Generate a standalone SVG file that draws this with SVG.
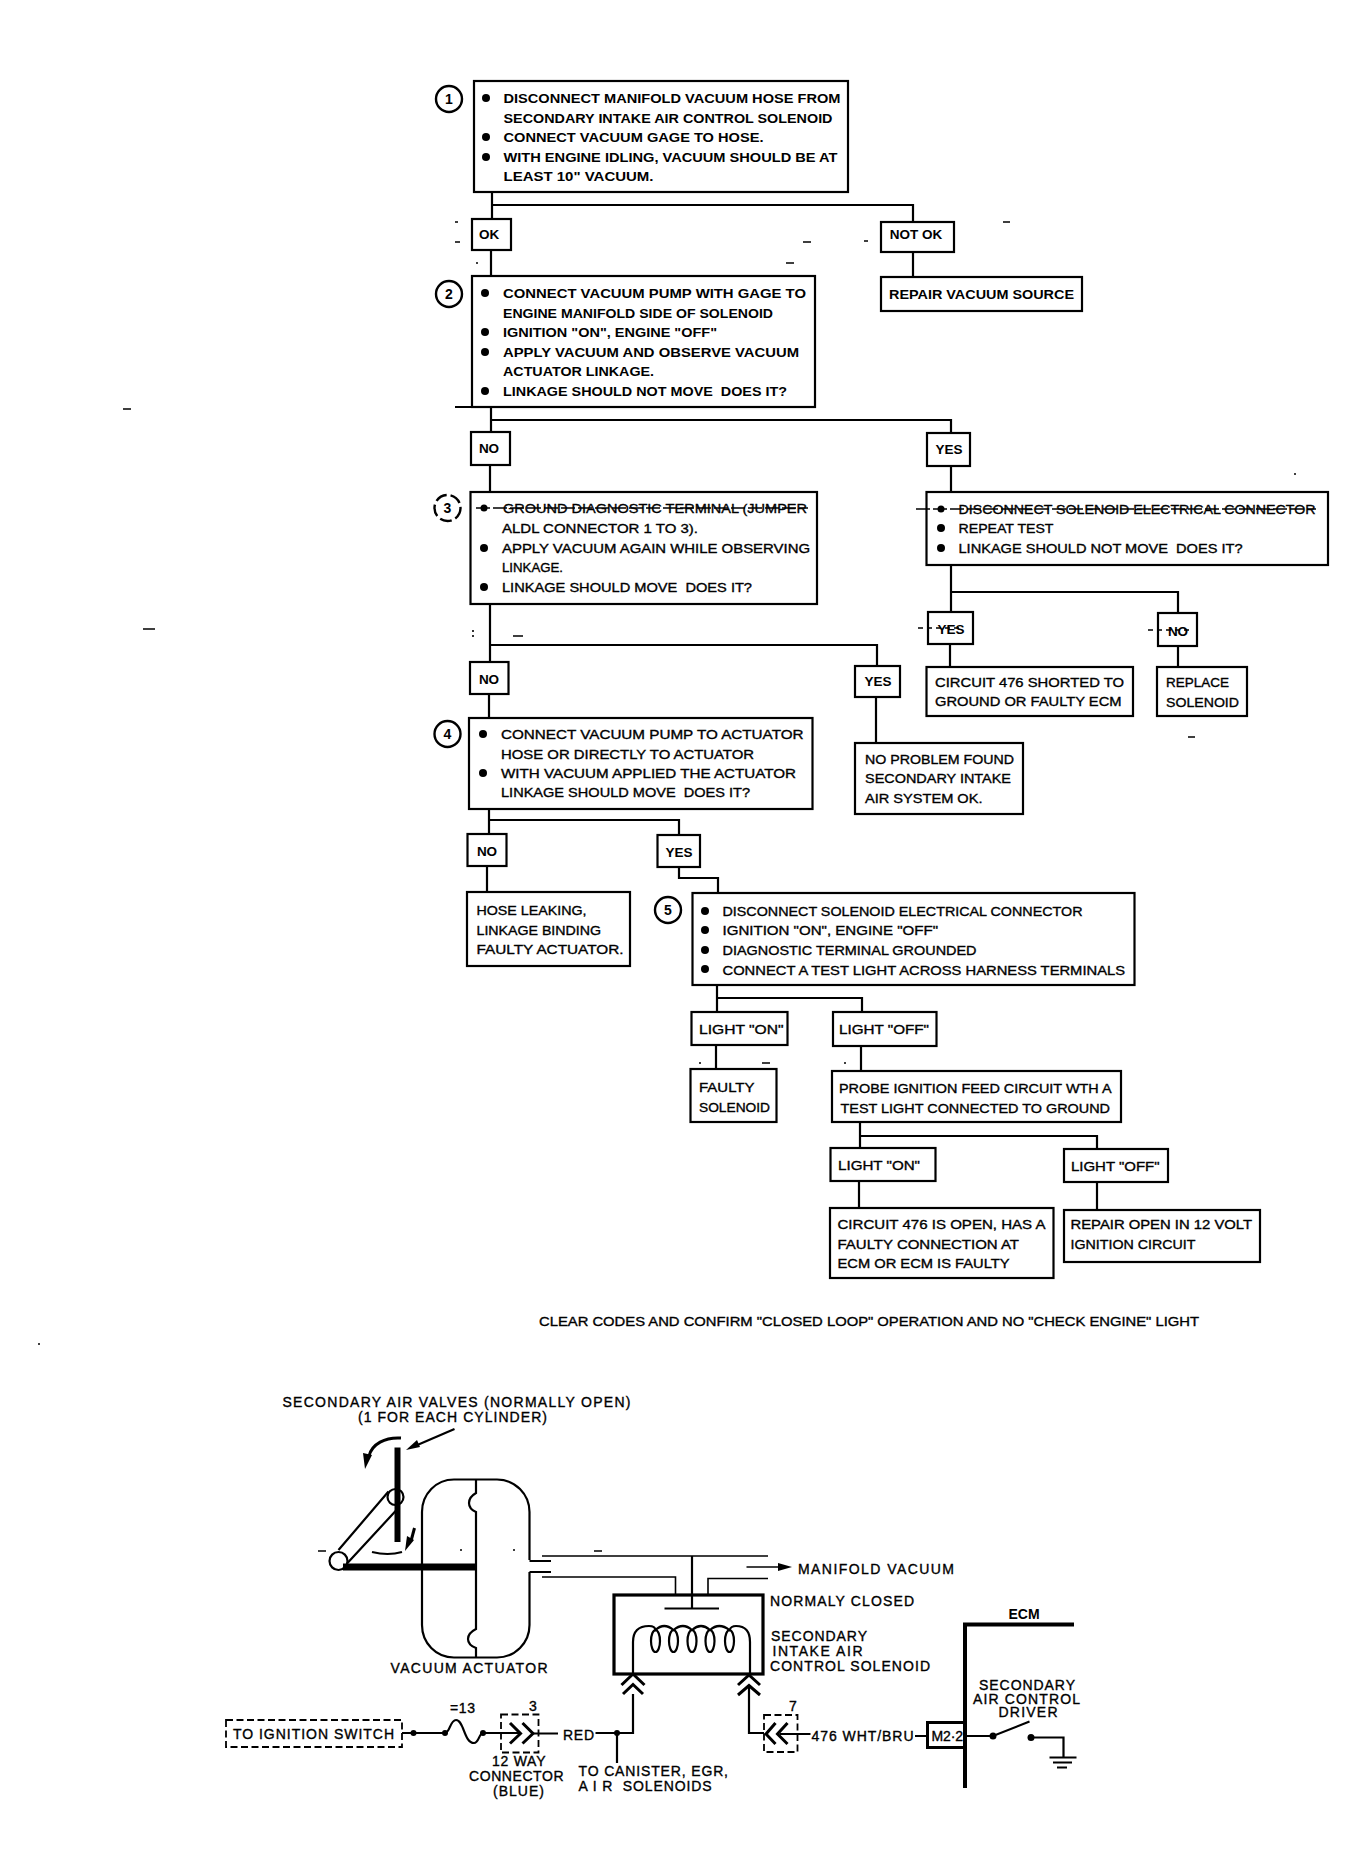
<svg xmlns="http://www.w3.org/2000/svg" width="1366" height="1870" viewBox="0 0 1366 1870">
<style>
text{font-family:"Liberation Sans",Arial,sans-serif;fill:#000}
.t{font-size:13.5px;font-weight:700}
.r{font-size:13.5px;font-weight:400;stroke:#000;stroke-width:.35}
.c{font-size:13.5px;font-weight:700;text-anchor:middle}
.n{font-size:14px;font-weight:700;text-anchor:middle}
.d{font-size:14px;font-weight:400;stroke:#000;stroke-width:.35}
.box{fill:#fff;stroke:#000;stroke-width:2.2}
.ring{fill:#fff;stroke:#000;stroke-width:2.4}
.w{fill:none;stroke:#000;stroke-width:2.2}
.thin{fill:none;stroke:#000;stroke-width:1.6}
.thick{fill:none;stroke:#000;stroke-width:3}
.dash{fill:none;stroke:#000;stroke-width:1.8;stroke-dasharray:7 3.5}
.b{fill:#000}
</style>
<g id="connectors">
<path class="w" d="M492 192V218M491 205H913V222M491 250V276M913 252V277M491 407V432M491 420H951V433"/>
<path class="w" d="M455 407H815M490 465V492M951 466V492M490 604V662M490 645H877V666M876 697V743M489 694V718"/>
<path class="w" d="M951 565V612M951 592H1178V613M950 644V667M1178 646V667"/>
<path class="w" d="M489 809V834M489 820H679V835M487 866V892M679 867V878H718V893"/>
<path class="w" d="M717 985V1012M717 998H862V1012M716 1045V1069M861 1046V1071M860 1122V1148M860 1136H1097V1149M859 1181V1208M1097 1182V1210"/>
</g>
<g id="n1"><rect class="box" x="474" y="81" width="374" height="111"/><circle class="ring" cx="449" cy="99" r="13"/><text class="n" x="449" y="104">1</text><circle class="b" cx="486" cy="98" r="4"/><circle class="b" cx="486" cy="137" r="4"/><circle class="b" cx="486" cy="157" r="4"/>
<text class="t" x="503.5" y="103" textLength="337" lengthAdjust="spacingAndGlyphs">DISCONNECT MANIFOLD VACUUM HOSE FROM</text>
<text class="t" x="503.5" y="123" textLength="329" lengthAdjust="spacingAndGlyphs">SECONDARY INTAKE AIR CONTROL SOLENOID</text>
<text class="t" x="503.5" y="142" textLength="260" lengthAdjust="spacingAndGlyphs">CONNECT VACUUM GAGE TO HOSE.</text>
<text class="t" x="503.5" y="162" textLength="334" lengthAdjust="spacingAndGlyphs">WITH ENGINE IDLING, VACUUM SHOULD BE AT</text>
<text class="t" x="503.5" y="181" textLength="150" lengthAdjust="spacingAndGlyphs">LEAST 10" VACUUM.</text></g>
<g id="ok"><rect class="box" x="472" y="219" width="39" height="31"/><text class="c" x="489" y="239">OK</text></g>
<g id="notok"><rect class="box" x="881" y="222" width="73" height="30"/><text class="c" x="916" y="239">NOT OK</text></g>
<g id="repair-vacuum"><rect class="box" x="881" y="277" width="201" height="34"/><text class="t" x="889" y="299" textLength="185" lengthAdjust="spacingAndGlyphs">REPAIR VACUUM SOURCE</text></g>
<g id="n2"><rect class="box" x="472" y="276" width="343" height="131"/><circle class="ring" cx="449" cy="294" r="13"/><text class="n" x="449" y="299">2</text><circle class="b" cx="485" cy="293" r="4"/><circle class="b" cx="485" cy="332" r="4"/><circle class="b" cx="485" cy="352" r="4"/><circle class="b" cx="485" cy="391" r="4"/>
<text class="t" x="503" y="298" textLength="303" lengthAdjust="spacingAndGlyphs">CONNECT VACUUM PUMP WITH GAGE TO</text>
<text class="t" x="503" y="318" textLength="270" lengthAdjust="spacingAndGlyphs">ENGINE MANIFOLD SIDE OF SOLENOID</text>
<text class="t" x="503" y="337" textLength="214" lengthAdjust="spacingAndGlyphs">IGNITION "ON", ENGINE "OFF"</text>
<text class="t" x="503" y="357" textLength="296" lengthAdjust="spacingAndGlyphs">APPLY VACUUM AND OBSERVE VACUUM</text>
<text class="t" x="503" y="376" textLength="151" lengthAdjust="spacingAndGlyphs">ACTUATOR LINKAGE.</text>
<text class="t" x="503" y="396" textLength="284" lengthAdjust="spacingAndGlyphs" xml:space="preserve">LINKAGE SHOULD NOT MOVE  DOES IT?</text></g>
<g id="no1"><rect class="box" x="471" y="432" width="39" height="33"/><text class="c" x="489" y="453">NO</text></g>
<g id="yes1"><rect class="box" x="927" y="433" width="43" height="33"/><text class="c" x="949" y="454">YES</text></g>
<g id="n3"><rect class="box" x="470.500" y="492" width="346.500" height="112"/><circle class="ring" cx="447.500" cy="508" r="13" stroke-dasharray="12 4"/><text class="n" x="447.500" y="513">3</text><circle class="b" cx="484" cy="508" r="3.500"/><circle class="b" cx="484" cy="548" r="4"/><circle class="b" cx="484" cy="587" r="4"/>
<text class="r" x="503" y="513" textLength="304" lengthAdjust="spacingAndGlyphs">GROUND DIAGNOSTIC TERMINAL (JUMPER</text>
<path d="M476 508H808" stroke="#000" stroke-width="1.300" stroke-dasharray="14 3" fill="none"/>
<text class="r" x="502" y="533" textLength="196" lengthAdjust="spacingAndGlyphs">ALDL CONNECTOR 1 TO 3).</text>
<text class="r" x="502" y="553" textLength="308" lengthAdjust="spacingAndGlyphs">APPLY VACUUM AGAIN WHILE OBSERVING</text>
<text class="r" x="502" y="572" textLength="61" lengthAdjust="spacingAndGlyphs">LINKAGE.</text>
<text class="r" x="502" y="592" textLength="250" lengthAdjust="spacingAndGlyphs" xml:space="preserve">LINKAGE SHOULD MOVE  DOES IT?</text></g>
<g id="nr"><rect class="box" x="926.500" y="492" width="401.500" height="73"/><circle class="b" cx="941" cy="509" r="3.500"/><circle class="b" cx="941" cy="528" r="4"/><circle class="b" cx="941" cy="548" r="4"/>
<text class="r" x="958.500" y="514" textLength="357" lengthAdjust="spacingAndGlyphs">DISCONNECT SOLENOID ELECTRICAL CONNECTOR</text>
<path d="M916 509H1316" stroke="#000" stroke-width="1.300" stroke-dasharray="14 3" fill="none"/>
<text class="r" x="958.500" y="533" textLength="95" lengthAdjust="spacingAndGlyphs">REPEAT TEST</text>
<text class="r" x="958.500" y="553" textLength="284" lengthAdjust="spacingAndGlyphs" xml:space="preserve">LINKAGE SHOULD NOT MOVE  DOES IT?</text></g>
<g id="yes2"><rect class="box" x="928" y="612" width="45" height="32"/><text class="c" x="951" y="634" font-weight="400">YES</text><path d="M918 628H962" stroke="#000" stroke-width="1.300" stroke-dasharray="5 4" fill="none"/></g>
<g id="no2"><rect class="box" x="1158" y="613" width="39" height="33"/><text class="c" x="1178" y="636">NO</text><path d="M1148 630H1190" stroke="#000" stroke-width="1.300" stroke-dasharray="5 4" fill="none"/></g>
<g id="shorted"><rect class="box" x="926.500" y="667" width="206.500" height="49"/><text class="r" x="935" y="687" textLength="189" lengthAdjust="spacingAndGlyphs">CIRCUIT 476 SHORTED TO</text><text class="r" x="935" y="706" textLength="186.500" lengthAdjust="spacingAndGlyphs">GROUND OR FAULTY ECM</text></g>
<g id="replace"><rect class="box" x="1157" y="667" width="90" height="49"/><text class="r" x="1166" y="687" textLength="63" lengthAdjust="spacingAndGlyphs">REPLACE</text><text class="r" x="1166" y="707" textLength="73" lengthAdjust="spacingAndGlyphs">SOLENOID</text></g>
<g id="no3"><rect class="box" x="470" y="662" width="38.500" height="32"/><text class="c" x="489" y="684">NO</text></g>
<g id="yes3"><rect class="box" x="855" y="666" width="45" height="31"/><text class="c" x="878" y="686">YES</text></g>
<g id="noproblem"><rect class="box" x="855" y="743" width="168" height="71"/><text class="r" x="865" y="764" textLength="149" lengthAdjust="spacingAndGlyphs">NO PROBLEM FOUND</text><text class="r" x="865" y="783" textLength="146" lengthAdjust="spacingAndGlyphs">SECONDARY INTAKE</text><text class="r" x="865" y="803" textLength="117.500" lengthAdjust="spacingAndGlyphs">AIR SYSTEM OK.</text></g>
<g id="n4"><rect class="box" x="469" y="718" width="343.500" height="91"/><circle class="ring" cx="447.500" cy="734" r="13"/><text class="n" x="447.500" y="739">4</text><circle class="b" cx="483" cy="734" r="4"/><circle class="b" cx="483" cy="773" r="4"/>
<text class="r" x="501" y="739" textLength="302.500" lengthAdjust="spacingAndGlyphs">CONNECT VACUUM PUMP TO ACTUATOR</text>
<text class="r" x="501" y="759" textLength="253" lengthAdjust="spacingAndGlyphs">HOSE OR DIRECTLY TO ACTUATOR</text>
<text class="r" x="501" y="778" textLength="295" lengthAdjust="spacingAndGlyphs">WITH VACUUM APPLIED THE ACTUATOR</text>
<text class="r" x="501" y="797" textLength="249" lengthAdjust="spacingAndGlyphs" xml:space="preserve">LINKAGE SHOULD MOVE  DOES IT?</text></g>
<g id="no4"><rect class="box" x="467.500" y="834" width="39" height="32"/><text class="c" x="487" y="856">NO</text></g>
<g id="yes4"><rect class="box" x="657.500" y="835" width="42.500" height="32"/><text class="c" x="679" y="857">YES</text></g>
<g id="hose"><rect class="box" x="467" y="892" width="163" height="74"/><text class="r" x="476.500" y="915" textLength="110" lengthAdjust="spacingAndGlyphs">HOSE LEAKING,</text><text class="r" x="476.500" y="935" textLength="124.500" lengthAdjust="spacingAndGlyphs">LINKAGE BINDING</text><text class="r" x="476.500" y="954" textLength="147" lengthAdjust="spacingAndGlyphs">FAULTY ACTUATOR.</text></g>
<g id="n5"><rect class="box" x="692.500" y="893" width="442" height="92"/><circle class="ring" cx="668" cy="910" r="13"/><text class="n" x="668" y="915">5</text><circle class="b" cx="705" cy="911" r="4"/><circle class="b" cx="705" cy="930" r="4"/><circle class="b" cx="705" cy="950" r="4"/><circle class="b" cx="705" cy="969" r="4"/>
<text class="r" x="722.500" y="916" textLength="360" lengthAdjust="spacingAndGlyphs">DISCONNECT SOLENOID ELECTRICAL CONNECTOR</text>
<text class="r" x="722.500" y="935" textLength="215.500" lengthAdjust="spacingAndGlyphs">IGNITION "ON", ENGINE "OFF"</text>
<text class="r" x="722.500" y="955" textLength="254" lengthAdjust="spacingAndGlyphs">DIAGNOSTIC TERMINAL GROUNDED</text>
<text class="r" x="722.500" y="975" textLength="402.500" lengthAdjust="spacingAndGlyphs">CONNECT A TEST LIGHT ACROSS HARNESS TERMINALS</text></g>
<g id="on1"><rect class="box" x="691.500" y="1012" width="96" height="33"/><text class="r" x="699" y="1034" textLength="84.500" lengthAdjust="spacingAndGlyphs">LIGHT "ON"</text></g>
<g id="off1"><rect class="box" x="833" y="1012" width="103.500" height="34"/><text class="r" x="839" y="1034" textLength="90" lengthAdjust="spacingAndGlyphs">LIGHT "OFF"</text></g>
<g id="faulty"><rect class="box" x="690.500" y="1069" width="86" height="53"/><text class="r" x="699" y="1092" textLength="55.500" lengthAdjust="spacingAndGlyphs">FAULTY</text><text class="r" x="699" y="1112" textLength="71" lengthAdjust="spacingAndGlyphs">SOLENOID</text></g>
<g id="probe"><rect class="box" x="832" y="1071" width="289" height="51"/><text class="r" x="839" y="1093" textLength="272.500" lengthAdjust="spacingAndGlyphs">PROBE IGNITION FEED CIRCUIT WTH A</text><text class="r" x="840.500" y="1113" textLength="269.500" lengthAdjust="spacingAndGlyphs">TEST LIGHT CONNECTED TO GROUND</text></g>
<g id="on2"><rect class="box" x="830.500" y="1148" width="105" height="33"/><text class="r" x="838" y="1170" textLength="82" lengthAdjust="spacingAndGlyphs">LIGHT "ON"</text></g>
<g id="off2"><rect class="box" x="1064" y="1149" width="104" height="33"/><text class="r" x="1071" y="1171" textLength="88.500" lengthAdjust="spacingAndGlyphs">LIGHT "OFF"</text></g>
<g id="circuit"><rect class="box" x="830" y="1208" width="223.500" height="70"/><text class="r" x="837.500" y="1229" textLength="208" lengthAdjust="spacingAndGlyphs">CIRCUIT 476 IS OPEN, HAS A</text><text class="r" x="837.500" y="1249" textLength="181.500" lengthAdjust="spacingAndGlyphs">FAULTY CONNECTION AT</text><text class="r" x="837.500" y="1268" textLength="172" lengthAdjust="spacingAndGlyphs">ECM OR ECM IS FAULTY</text></g>
<g id="repair12"><rect class="box" x="1064" y="1210" width="196" height="52"/><text class="r" x="1070.500" y="1229" textLength="181.500" lengthAdjust="spacingAndGlyphs">REPAIR OPEN IN 12 VOLT</text><text class="r" x="1070.500" y="1249" textLength="125" lengthAdjust="spacingAndGlyphs">IGNITION CIRCUIT</text></g>
<g id="footer"><text class="r" x="539" y="1326" font-size="12" textLength="660" lengthAdjust="spacingAndGlyphs">CLEAR CODES AND CONFIRM "CLOSED LOOP" OPERATION AND NO "CHECK ENGINE" LIGHT</text></g>

<g id="valve">
<text class="d" x="282.500" y="1407" textLength="348" lengthAdjust="spacing">SECONDARY AIR VALVES (NORMALLY OPEN)</text>
<text class="d" x="358" y="1422" textLength="189" lengthAdjust="spacing">(1 FOR EACH CYLINDER)</text>
<path class="w" d="M454.500 1429L415 1446"/><polygon class="b" points="406,1450 417,1440 420,1447"/>
<path class="thick" d="M401 1438C385 1437 372 1444 369 1456"/><polygon class="b" points="365,1469 363,1453 372,1455"/>
<path d="M397.500 1447.500V1542" stroke="#000" stroke-width="6" fill="none"/>
<circle class="w" cx="395.500" cy="1497" r="8"/>
<circle class="w" cx="338.500" cy="1561" r="9"/>
<path class="w" d="M338.500 1550L388.500 1491.500M347.500 1563L396.500 1510"/>
<path d="M343 1567H476" stroke="#000" stroke-width="7" fill="none"/>
<path d="M414.500 1528L411 1541" stroke="#000" stroke-width="3" fill="none"/><polygon class="b" points="405,1551 407,1536 414,1540"/>
<path class="w" d="M372 1552Q388 1556 402 1552"/>
</g>
<g id="actuator">
<path class="w" d="M529.500 1560V1512C529.500 1494 515 1479.500 497 1479.500H454C436 1479.500 422 1494 422 1512V1625C422 1643 436 1657.500 454 1657.500H497C515 1657.500 529.500 1643 529.500 1625V1572"/>
<path class="w" d="M476 1479.500V1493Q469 1497 469 1503Q469 1509 476 1512V1629Q468 1633 468 1639Q468 1645 476 1648V1657.500"/>
<path class="w" d="M529.500 1561H551M551 1572H529.500"/>
<path class="thin" d="M542 1556H768M542 1577H675.500V1595M708 1595V1578.500H768"/>
<text class="d" x="390.500" y="1673" textLength="157" lengthAdjust="spacing">VACUUM ACTUATOR</text>
</g>
<g id="solenoid">
<rect x="614" y="1595" width="149" height="79" fill="#fff" stroke="#000" stroke-width="3.200"/>
<path class="w" d="M692 1556V1608M664.500 1608.500H719"/>
<path class="w" d="M633 1674V1642Q633 1626 649 1626Q655 1626 655.500 1630Q664 1622 673.500 1630Q683 1622 692 1630Q701 1622 710 1630Q719 1622 729.500 1630Q731 1626 736 1626Q750 1626 750 1642V1674"/>
<ellipse class="w" cx="655.500" cy="1641" rx="4.500" ry="11"/><ellipse class="w" cx="673.500" cy="1641" rx="4.500" ry="11"/><ellipse class="w" cx="692" cy="1641" rx="4.500" ry="11"/><ellipse class="w" cx="710" cy="1641" rx="4.500" ry="11"/><ellipse class="w" cx="729.500" cy="1641" rx="4.500" ry="11"/>
<path class="thick" d="M621.500 1685L633 1674L644.500 1685M623 1694L633 1684.500L643 1694M738 1685L749 1675L760 1685M738 1695L749 1685.500L760 1695"/>
<path d="M746.500 1567H780" stroke="#000" stroke-width="1.600" fill="none"/><polygon class="b" points="792,1567 778,1563 778,1571"/>
<text class="d" x="798" y="1573.500" textLength="156" lengthAdjust="spacing">MANIFOLD VACUUM</text>
<text class="d" x="770" y="1606" textLength="144" lengthAdjust="spacing">NORMALY CLOSED</text>
<text class="d" x="771" y="1641" textLength="96" lengthAdjust="spacing">SECONDARY</text>
<text class="d" x="772.500" y="1656" textLength="90" lengthAdjust="spacing">INTAKE AIR</text>
<text class="d" x="770" y="1671" textLength="160" lengthAdjust="spacing">CONTROL SOLENOID</text>
</g>
<g id="ignition">
<rect class="dash" x="226" y="1720" width="176" height="27"/>
<text class="d" x="233" y="1738.500" textLength="161" lengthAdjust="spacing">TO IGNITION SWITCH</text>
<path class="w" d="M402 1733H445M445 1733C450 1733 450 1720 456 1720C464 1720 464 1743 474 1743C479 1743 479 1733 483 1733H519"/>
<circle class="b" cx="413.500" cy="1733" r="3"/><circle class="b" cx="445" cy="1733" r="3"/><circle class="b" cx="483" cy="1733" r="3"/>
<text class="d" x="450" y="1713" textLength="25" lengthAdjust="spacing">=13</text>
<rect class="dash" x="501" y="1714.500" width="37.500" height="38"/>
<path class="thick" d="M510 1723L520.500 1733.500L510 1743.500M522.500 1723L533 1733.500L522.500 1743.500"/>
<path class="w" d="M533 1733.500H558M595.500 1733H633V1694M617 1733V1763"/>
<circle class="b" cx="617" cy="1733" r="3"/>
<text class="d" x="533" y="1711" text-anchor="middle">3</text>
<text class="d" x="563" y="1739.500" textLength="31" lengthAdjust="spacing">RED</text>
<text class="d" x="492" y="1766" textLength="53.500" lengthAdjust="spacing">12 WAY</text>
<text class="d" x="469" y="1781" textLength="94.500" lengthAdjust="spacing">CONNECTOR</text>
<text class="d" x="493" y="1795.500" textLength="51" lengthAdjust="spacing">(BLUE)</text>
<text class="d" x="578.500" y="1775.500" textLength="149.500" lengthAdjust="spacing">TO CANISTER, EGR,</text>
<text class="d" x="578.500" y="1790.500" textLength="133" lengthAdjust="spacing" xml:space="preserve">A I R  SOLENOIDS</text>
</g>
<g id="ecm">
<path class="w" d="M749 1686V1733H764"/>
<rect class="dash" x="764" y="1715" width="33.500" height="37"/>
<path class="thick" d="M775.500 1723L766 1734L775.500 1744M787.500 1723L777.500 1734L787.500 1744"/>
<path class="w" d="M780 1734H810.500M915 1736H928"/>
<text class="d" x="793" y="1711" text-anchor="middle">7</text>
<text class="d" x="811.500" y="1741" textLength="102" lengthAdjust="spacing">476 WHT/BRU</text>
<rect x="927.500" y="1722.500" width="37" height="25" fill="#fff" stroke="#000" stroke-width="3"/>
<text class="d" x="931.500" y="1741" textLength="31.500" lengthAdjust="spacing">M2·2</text>
<path d="M965 1788V1624.500H1074" fill="none" stroke="#000" stroke-width="4"/>
<text class="n" x="1024" y="1619">ECM</text>
<text class="d" x="979" y="1689.500" textLength="96" lengthAdjust="spacing">SECONDARY</text>
<text class="d" x="973" y="1703.500" textLength="107" lengthAdjust="spacing">AIR CONTROL</text>
<text class="d" x="998.500" y="1717" textLength="59" lengthAdjust="spacing">DRIVER</text>
<path class="w" d="M965 1736H993L1029.500 1721.500M1031 1737.500H1063.500V1757.500M1049.500 1757.500H1076.500M1053 1762.500H1072M1057 1767.500H1067"/>
<circle class="b" cx="993" cy="1736" r="3.500"/><circle class="b" cx="1031" cy="1737.500" r="3.500"/>
</g>
<g id="specks"><path class="thin" d="M803 242H811M786 263H794M1003 222H1010M455 242H460M455 222H458M476 263H478M864 241H868M123 409H131M143 629H155M1294 474H1296M1188 737H1195M513 636H523M473 630V632M473 635V637M699 1063H701M762 1063H770M844 1063H846M318 1551H326M594 1551H602M460 1550H462M513 1550H515M38 1344H40"/></g>
</svg>
